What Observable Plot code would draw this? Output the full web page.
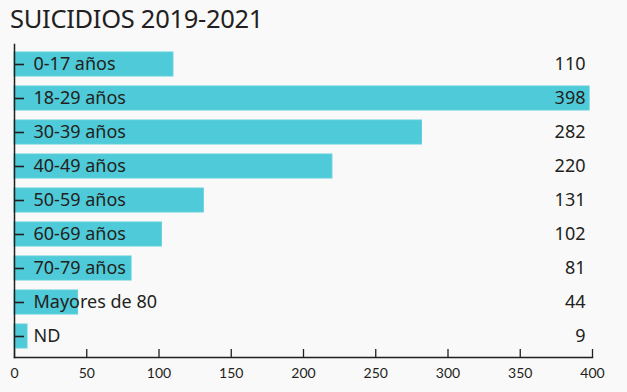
<!DOCTYPE html>
<html>
<head>
<meta charset="utf-8">
<script src="https://cdn.jsdelivr.net/npm/d3@7"></script>
<script src="https://cdn.jsdelivr.net/npm/@observablehq/plot@0.6"></script>
<style>
  html, body { margin: 0; padding: 0; background: #f9f9f9; }
  #wrap { position: relative; width: 627px; height: 392px; overflow: hidden; }
  #title { position: absolute; left: 10px; top: 1px; font-family: "Noto Sans", sans-serif; font-size: 25.5px; color: #231f20; letter-spacing: -0.3px; }
  #chart { position: absolute; left: 0; top: 0; }
  svg { display: block; }
</style>
</head>
<body>
<div id="wrap">
  <div id="chart"></div>
  <div id="title">SUICIDIOS 2019-2021</div>
</div>
<script>
const categories = ["0-17 años", "18-29 años", "30-39 años", "40-49 años", "50-59 años", "60-69 años", "70-79 años", "Mayores de 80", "ND"];
const values = [110, 398, 282, 220, 131, 102, 81, 44, 9];
const xTicks = [0, 50, 100, 150, 200, 250, 300, 350, 400];

const data = categories.map((c, i) => ({cat: c, value: values[i]}));
const ink = "#231f20";

const chart = Plot.plot({
  width: 627,
  height: 392,
  marginTop: 44,
  marginBottom: 35,
  marginLeft: 14,
  marginRight: 35,
  style: {background: "transparent", color: ink},
  x: {domain: [0, 400], ticks: xTicks, label: null},
  y: {domain: categories, paddingInner: 0.28, paddingOuter: 0.15, label: null},
  marks: [
    Plot.barX(data, {x: "value", y: "cat", fill: "#4fcad8", stroke: "#62d0dc", strokeWidth: 1}),
    Plot.frame({anchor: "left", stroke: ink, strokeWidth: 1.5}),
    Plot.frame({anchor: "bottom", stroke: ink, strokeWidth: 1.5}),
    Plot.axisX({ticks: xTicks, tickSize: -8, tickPadding: 19, fontSize: 14, fontFamily: "Lato, sans-serif", stroke: ink, fill: ink, strokeWidth: 1.3, label: null}),
    Plot.axisY({tickSize: -10, tickPadding: -9, textAnchor: "start", fontSize: 18, fontFamily: "Noto Sans, sans-serif", fill: ink, stroke: ink, strokeWidth: 1.6, label: null}),
    Plot.text(data, {y: "cat", text: d => String(d.value), frameAnchor: "right", textAnchor: "end", dx: -7, fontSize: 18, fontFamily: "Noto Sans, sans-serif", fill: ink})
  ]
});
document.getElementById("chart").appendChild(chart);
</script>
</body>
</html>
